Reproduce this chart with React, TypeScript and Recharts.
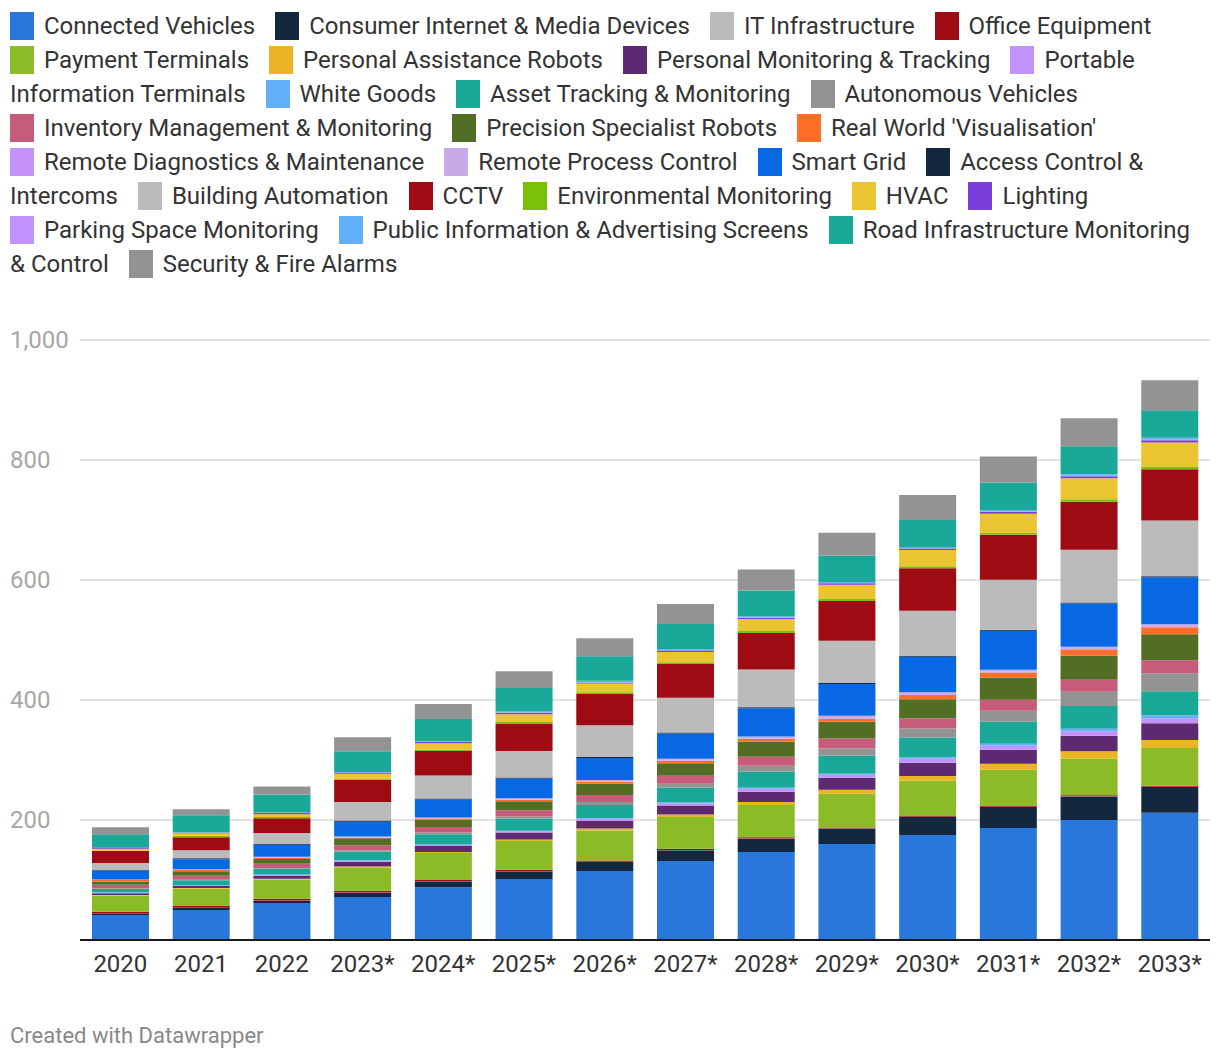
import { Bar, BarChart, CartesianGrid, XAxis, YAxis } from 'recharts'

const years = ['2020', '2021', '2022', '2023*', '2024*', '2025*', '2026*', '2027*', '2028*', '2029*', '2030*', '2031*', '2032*', '2033*']

// values per series, one per year
const connectedVehicles = [41.7, 50, 61.7, 71.7, 88, 101.7, 115, 131.7, 146.7, 160, 175, 186.7, 200, 212]
const consumerInternet = [1.7, 3.3, 3.9, 7.2, 10, 13, 15, 18, 22, 25.5, 30, 35, 39, 43]
const itInfrastructure = [0.4, 0.4, 0.4, 0.4, 0.4, 0.4, 0.4, 0.4, 0.4, 0.4, 0.4, 0.4, 0.4, 0.4]
const officeEquipment = [3.3, 3.3, 2.8, 2.8, 1.7, 2, 2.2, 2, 2, 1.7, 2, 2.2, 2, 1.7]
const paymentTerminals = [26.7, 28.3, 31.7, 38.3, 45, 48, 50, 53, 54, 56, 58, 59.4, 61, 63]
const personalAssistance = [1, 1.2, 1.7, 2.2, 1.7, 2.5, 3.3, 4, 5, 6.7, 8, 10, 12, 13.3]
const personalMonitoring = [3.3, 3.3, 5, 7.8, 10, 11.5, 12.8, 15, 17, 20, 22, 23.3, 26, 28]
const portableTerminals = [0.8, 1, 1.2, 1.7, 1.5, 2, 3.3, 4, 5, 5.2, 6.5, 6.7, 7.5, 8.3]
const whiteGoods = [0.5, 0.6, 0.8, 1, 1, 1, 1.2, 1.5, 1.5, 1.5, 2.5, 3.3, 4, 5]
const assetTracking = [6.1, 8.3, 10, 14.4, 17, 20, 21.7, 24, 27, 30, 33, 36.7, 38, 40]
const autonomousVehicles = [0.5, 0.8, 1, 1.5, 3, 4, 5, 7, 10, 12, 15, 18.3, 24, 30]
const inventoryMgmt = [6.1, 6.7, 6.7, 8.9, 9, 10, 11.7, 13, 15, 16.7, 17, 18.3, 20, 21.7]
const precisionRobots = [5, 7.2, 8.3, 11.7, 12, 15, 19, 21, 25, 28, 32, 36.7, 40, 43]
const realWorldVis = [2.8, 2.8, 1.5, 0.8, 2, 2.5, 3.3, 4, 4.5, 5, 7, 8.9, 10, 12]
const remoteDiagnostics = [0.3, 0.3, 0.4, 0.5, 0.5, 0.6, 0.6, 0.8, 0.8, 1, 1, 1.2, 1.2, 1.5]
const remoteProcess = [0.5, 0.5, 1.5, 1.7, 1.5, 2, 2.2, 2.7, 3.2, 4, 3.5, 3.2, 3.8, 3.5]
const smartGrid = [15, 16.7, 20, 24.4, 30, 33, 36.7, 42, 47, 53, 59, 65, 72, 78]
const accessControl = [1, 1.7, 1.5, 2.2, 1.7, 1.7, 1.7, 1.7, 1.7, 1.7, 1.7, 1.7, 1.7, 1.7]
const buildingAutomation = [11.7, 13.3, 18.3, 31, 38, 44, 53, 58, 63, 70.5, 75, 83.3, 88, 93]
const cctv = [20, 21.7, 24.4, 36.7, 41, 46, 52, 56, 61, 66, 71, 75, 80, 85.5]
const environmental = [0.5, 2.2, 2.2, 1.7, 2, 2.5, 2.8, 3, 3, 3.3, 3.3, 3.3, 4, 4.5]
const hvac = [3.3, 4.4, 4.4, 8.3, 11, 13, 14.4, 17, 20, 24, 27, 31.7, 35, 40]
const lighting = [2.2, 0.8, 2.2, 2.2, 2, 2.5, 1.5, 2.5, 2, 2.2, 2.5, 3.3, 3.5, 3.9]
const parkingSpace = [0.3, 0.3, 0.3, 0.3, 0.3, 0.4, 0.4, 0.5, 0.5, 0.5, 0.6, 0.6, 0.7, 0.7]
const publicInfo = [0.5, 0.5, 0.6, 0.8, 1, 1.5, 2.8, 2, 2, 1.7, 2, 1.7, 2.5, 3.3]
const roadInfra = [21, 28.3, 30, 34.4, 37, 39, 41, 42, 43, 43.9, 45, 46.7, 46.7, 46]
const securityFire = [11.7, 10, 13.3, 23.3, 25, 28, 30, 33, 35, 38.3, 41.7, 43.3, 46.7, 50]

const yTicks = [200, 400, 600, 800, 1000]

const series = [
  { name: 'Connected Vehicles', color: '#2a77db', values: connectedVehicles },
  { name: 'Consumer Internet & Media Devices', color: '#13273f', values: consumerInternet },
  { name: 'IT Infrastructure', color: '#bbbbbb', values: itInfrastructure },
  { name: 'Office Equipment', color: '#9f0b12', values: officeEquipment },
  { name: 'Payment Terminals', color: '#8bbb26', values: paymentTerminals },
  { name: 'Personal Assistance Robots', color: '#ebb425', values: personalAssistance },
  { name: 'Personal Monitoring & Tracking', color: '#5d2a72', values: personalMonitoring },
  { name: 'Portable Information Terminals', color: '#c193fb', values: portableTerminals },
  { name: 'White Goods', color: '#63aff8', values: whiteGoods },
  { name: 'Asset Tracking & Monitoring', color: '#1aa898', values: assetTracking },
  { name: 'Autonomous Vehicles', color: '#939393', values: autonomousVehicles },
  { name: 'Inventory Management & Monitoring', color: '#c75c7a', values: inventoryMgmt },
  { name: 'Precision Specialist Robots', color: '#526e24', values: precisionRobots },
  { name: "Real World 'Visualisation'", color: '#ff6e26', values: realWorldVis },
  { name: 'Remote Diagnostics & Maintenance', color: '#c593fa', values: remoteDiagnostics },
  { name: 'Remote Process Control', color: '#c9a9e8', values: remoteProcess },
  { name: 'Smart Grid', color: '#0868e4', values: smartGrid },
  { name: 'Access Control & Intercoms', color: '#13273f', values: accessControl },
  { name: 'Building Automation', color: '#bbbbbb', values: buildingAutomation },
  { name: 'CCTV', color: '#9f0b12', values: cctv },
  { name: 'Environmental Monitoring', color: '#7bc10a', values: environmental },
  { name: 'HVAC', color: '#ebc431', values: hvac },
  { name: 'Lighting', color: '#7a3fd8', values: lighting },
  { name: 'Parking Space Monitoring', color: '#c193fb', values: parkingSpace },
  { name: 'Public Information & Advertising Screens', color: '#63aff8', values: publicInfo },
  { name: 'Road Infrastructure Monitoring & Control', color: '#1aa898', values: roadInfra },
  { name: 'Security & Fire Alarms', color: '#939393', values: securityFire },
]

const data = years.map((year, i) => {
  const row: Record<string, string | number> = { year }
  series.forEach((s, k) => {
    row['s' + k] = s.values[i]
  })
  return row
})

const font = 'Roboto, sans-serif'

const YTick = (props: any) => {
  const { y, payload } = props
  return (
    <text x={2} y={y} dy={8} fill="#a6a6a6" fontSize={24} fontFamily={font} textAnchor="start">
      {payload.value.toLocaleString('en-US')}
    </text>
  )
}

export default function App() {
  return (
    <div style={{ position: 'relative', width: 1204, height: 1044, fontFamily: font }}>
      <div style={{ position: 'absolute', left: 2, top: 1, width: 1192, fontSize: 24, lineHeight: '34px', color: '#333' }}>
        {series.map((s) => {
          const words = s.name.split(' ')
          return (
            <span key={s.name}>
              <span style={{ whiteSpace: 'nowrap' }}>
                <span
                  style={{
                    display: 'inline-block',
                    width: 24,
                    height: 28,
                    background: s.color,
                    verticalAlign: 'middle',
                    marginRight: 10,
                    marginTop: -4,
                  }}
                />
                {words[0]}
              </span>
              {words.length > 1 ? ' ' + words.slice(1).join(' ') : ''}
              <span style={{ marginRight: 14 }} />{' '}
            </span>
          )
        })}
      </div>
      <div style={{ position: 'absolute', left: 0, top: 312 }}>
        <BarChart width={1204} height={660} data={data} margin={{ top: 20, right: 2, left: 0, bottom: 0 }} barSize={57}>
          <CartesianGrid horizontal vertical={false} stroke="#e3e3e3" strokeWidth={2} />
          <XAxis
            dataKey="year"
            height={40}
            tickLine={false}
            axisLine={{ stroke: '#1a1a1a', strokeWidth: 2 }}
            tick={{ fill: '#333', fontSize: 24, fontFamily: font, dy: 7 }}
            interval={0}
          />
          <YAxis width={72} domain={[0, 1000]} ticks={yTicks} axisLine={false} tickLine={false} tick={<YTick />} />
          {series.map((s, k) => (
            <Bar key={s.name} dataKey={'s' + k} name={s.name} stackId="a" fill={s.color} isAnimationActive={false} />
          ))}
        </BarChart>
      </div>
      <div style={{ position: 'absolute', left: 2, top: 1015, fontSize: 22, color: '#888' }}>Created with Datawrapper</div>
    </div>
  )
}
